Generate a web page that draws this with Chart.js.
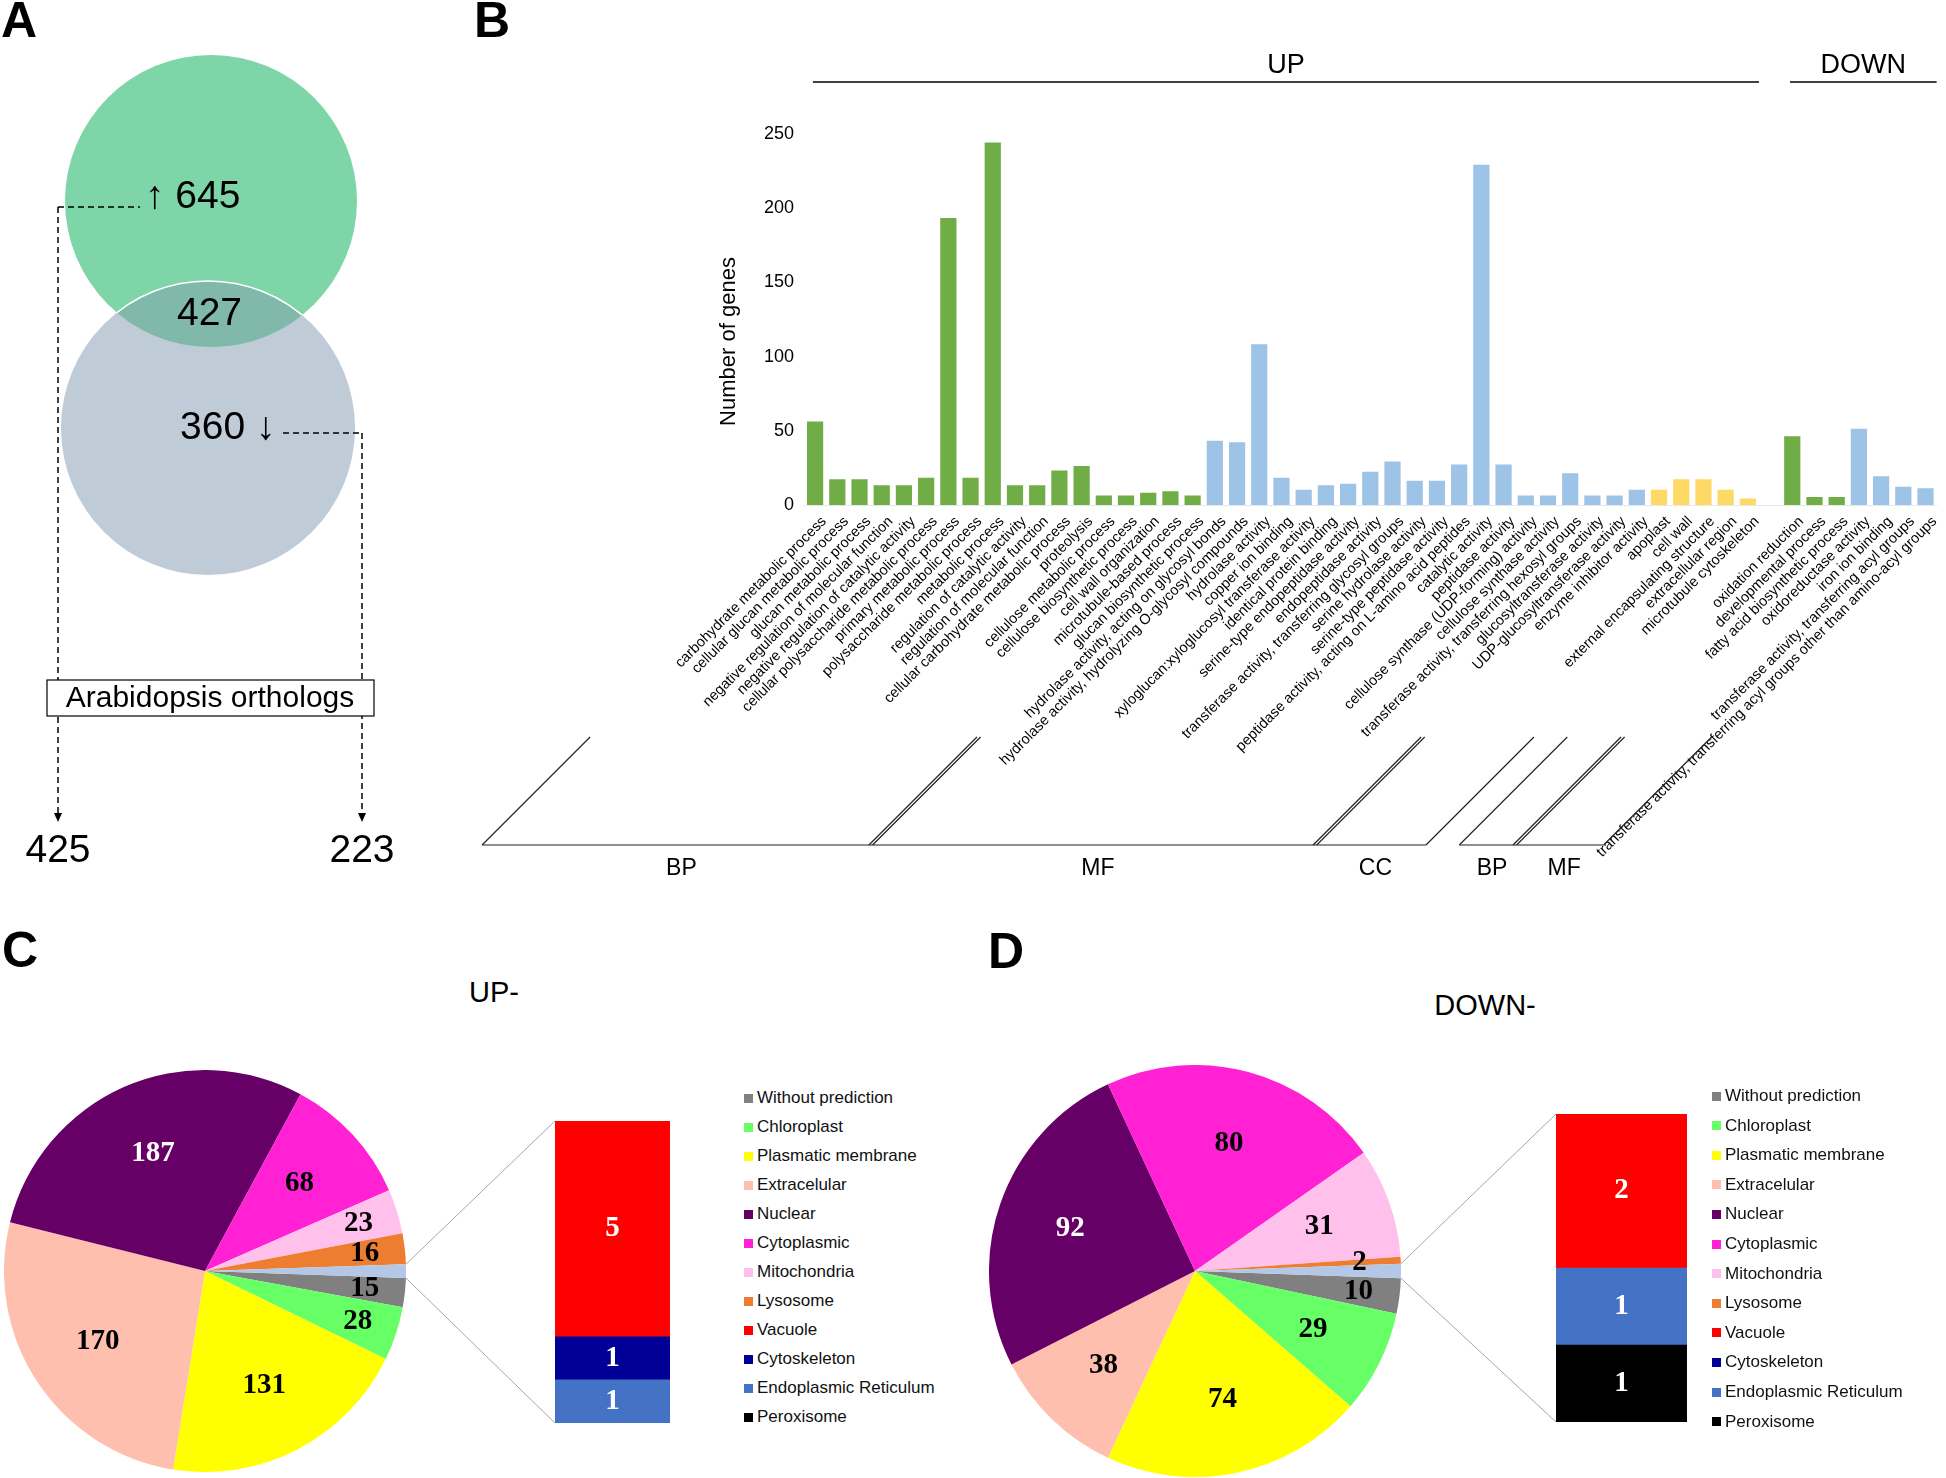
<!DOCTYPE html>
<html>
<head>
<meta charset="utf-8">
<script src="https://cdn.jsdelivr.net/npm/chart.js@4.4.1/dist/chart.umd.min.js"></script>
<style>
  body { margin: 0; background: #fff; }
  #page { position: relative; width: 1946px; height: 1478px; overflow: hidden; font-family: "Liberation Sans", Arial, sans-serif; color: #000; }
  canvas { position: absolute; }
  .txt { position: absolute; white-space: nowrap; line-height: 1; }
  .lg-row { position: absolute; font-size: 17px; line-height: 18px; height: 18px; padding-left: 13px; white-space: nowrap; color: #111; }
  .lg-row i { position: absolute; left: 0; top: 4.5px; width: 9px; height: 9px; }
</style>
</head>
<body>
<div id="page">
  <canvas id="vennChart"></canvas>
  <canvas id="goChart"></canvas>
  <canvas id="pieUp"></canvas>
  <canvas id="barUp"></canvas>
  <canvas id="pieDown"></canvas>
  <canvas id="barDown"></canvas>
  <div id="legendUp"></div>
  <div id="legendDown"></div>
</div>
<script>
// ---------- data ----------
const vennSets = ['UP', 'DOWN'];
const vennCounts = [645, 360];
const vennShared = 427;
const orthologCounts = [425, 223];

const upBPLabels = ['carbohydrate metabolic process', 'cellular glucan metabolic process', 'glucan metabolic process',
  'negative regulation of molecular function', 'negative regulation of catalytic activity',
  'cellular polysaccharide metabolic process', 'primary metabolic process', 'polysaccharide metabolic process',
  'metabolic process', 'regulation of catalytic activity', 'regulation of molecular function',
  'cellular carbohydrate metabolic process', 'proteolysis', 'cellulose metabolic process',
  'cellulose biosynthetic process', 'cell wall organization', 'microtubule-based process', 'glucan biosynthetic process'];
const upBPValues = [57, 18, 18, 14, 14, 19, 194, 19, 245, 14, 14, 24, 27, 7, 7, 9, 10, 7];

const upMFLabels = ['hydrolase activity, acting on glycosyl bonds', 'hydrolase activity, hydrolyzing O-glycosyl compounds',
  'hydrolase activity', 'copper ion binding', 'xyloglucan:xyloglucosyl transferase activity', 'identical protein binding',
  'serine-type endopeptidase activity', 'endopeptidase activity', 'transferase activity, transferring glycosyl groups',
  'serine hydrolase activity', 'serine-type peptidase activity', 'peptidase activity, acting on L-amino acid peptides',
  'catalytic activity', 'peptidase activity', 'cellulose synthase (UDP-forming) activity', 'cellulose synthase activity',
  'transferase activity, transferring hexosyl groups', 'glucosyltransferase activity', 'UDP-glucosyltransferase activity',
  'enzyme inhibitor activity'];
const upMFValues = [44, 43, 109, 19, 11, 14, 15, 23, 30, 17, 17, 28, 230, 28, 7, 7, 22, 7, 7, 11];

const upCCLabels = ['apoplast', 'cell wall', 'external encapsulating structure', 'extracellular region', 'microtubule cytoskeleton'];
const upCCValues = [11, 18, 18, 11, 5];

const downBPLabels = ['oxidation reduction', 'developmental process', 'fatty acid biosynthetic process'];
const downBPValues = [47, 6, 6];

const downMFLabels = ['oxidoreductase activity', 'iron ion binding', 'transferase activity, transferring acyl groups',
  'transferase activity, transferring acyl groups other than amino-acyl groups'];
const downMFValues = [52, 20, 13, 12];

const geneTicks = [0, 50, 100, 150, 200, 250];

const locLabels = ['Without prediction', 'Chloroplast', 'Plasmatic membrane', 'Extracelular', 'Nuclear', 'Cytoplasmic',
  'Mitochondria', 'Lysosome', 'Vacuole', 'Cytoskeleton', 'Endoplasmic Reticulum', 'Peroxisome'];
// first eight go in the pie, last four are grouped in the side bar
const upLocMain = [15, 28, 131, 170, 187, 68, 23, 16];
const upLocDetail = [5, 1, 1, 0];      // Vacuole, Cytoskeleton, ER, Peroxisome
const downLocMain = [10, 29, 74, 38, 92, 80, 31, 2];
const downLocDetail = [2, 0, 1, 1];

// ---------- styles ----------
const locColors = ['#808080', '#66FF66', '#FFFF00', '#FFBFAE', '#660066', '#FF21D3', '#FFC1EC', '#ED7D31',
  '#FF0000', '#000096', '#4472C4', '#000000'];
const otherColor = '#B4C7E7';
const green = '#70AD47', blue = '#9DC3E6', yellow = '#FFD966';

const boxes = {
  venn: { left: 0, top: 0, w: 440, h: 900 },
  go: { left: 440, top: 0, w: 1506, h: 900 },
  pieUp: { left: 4, top: 1070, w: 402, h: 402 },
  barUp: { left: 390, top: 1060, w: 340, h: 400, pad: { left: 165, right: 60, top: 61, bottom: 37 } },
  pieDown: { left: 989, top: 1065, w: 412, h: 412 },
  barDown: { left: 1380, top: 1060, w: 340, h: 400, pad: { left: 176, right: 33, top: 54, bottom: 38 } }
};

Chart.defaults.font.family = '"Liberation Sans", Arial, sans-serif';
Chart.defaults.color = '#000';
Chart.defaults.animation = false;

function place(id, box) {
  const c = document.getElementById(id);
  c.width = box.w; c.height = box.h;
  c.style.left = box.left + 'px'; c.style.top = box.top + 'px';
  return c;
}

function addText(text, x, baseline, size, opts) {
  opts = opts || {};
  const d = document.createElement('div');
  d.className = 'txt';
  d.textContent = text;
  d.style.fontSize = size + 'px';
  d.style.top = (baseline - 0.8465 * size) + 'px';
  d.style.left = x + 'px';
  if (opts.bold) d.style.fontWeight = 'bold';
  if (opts.center) d.style.transform = 'translateX(-50%)';
  document.getElementById('page').appendChild(d);
}

function line(ctx, x1, y1, x2, y2) {
  ctx.beginPath(); ctx.moveTo(x1, y1); ctx.lineTo(x2, y2); ctx.stroke();
}

// ---------- A: venn ----------
const vennDecor = {
  id: 'vennDecor',
  afterDatasetsDraw(chart) {
    const ctx = chart.ctx;
    const up = chart.getDatasetMeta(0).data[0];
    const dn = chart.getDatasetMeta(1).data[0];
    const rU = up.options.radius, rD = dn.options.radius;

    // overlap
    ctx.save();
    ctx.beginPath(); ctx.arc(up.x, up.y, rU, 0, Math.PI * 2); ctx.clip();
    ctx.beginPath(); ctx.arc(dn.x, dn.y, rD, 0, Math.PI * 2);
    ctx.fillStyle = '#80B9AA'; ctx.fill();
    ctx.strokeStyle = '#fff'; ctx.lineWidth = 1.5; ctx.stroke();
    ctx.restore();

    ctx.save();
    ctx.fillStyle = '#000'; ctx.strokeStyle = '#000';
    ctx.font = '39px "Liberation Sans"';
    ctx.textBaseline = 'middle';
    ctx.textAlign = 'left';
    ctx.fillText('\u2191 ' + vennCounts[0], up.x - 66, up.y - 4);
    ctx.fillText(vennCounts[1] + ' \u2193', dn.x - 28, dn.y);
    ctx.textAlign = 'center';
    ctx.fillText(String(vennShared), (up.x + dn.x) / 2, (up.y + rU + dn.y - rD) / 2);

    // dashed leaders
    const xl = up.x - rU - 7, xr = dn.x + rD + 7;
    const yl = up.y + 6, yr = dn.y + 5;
    const tip = dn.y + rD + 247;
    ctx.lineWidth = 1.5; ctx.setLineDash([6, 4]);
    line(ctx, xl, yl, up.x - 71, yl);
    line(ctx, xl, yl, xl, tip - 8);
    line(ctx, dn.x + 75, yr, xr, yr);
    line(ctx, xr, yr, xr, tip - 8);
    ctx.setLineDash([]);
    [xl, xr].forEach(x => {
      ctx.beginPath(); ctx.moveTo(x - 4, tip - 9); ctx.lineTo(x + 4, tip - 9); ctx.lineTo(x, tip); ctx.closePath(); ctx.fill();
    });

    // orthologs box
    const by = dn.y + rD + 105;
    ctx.fillStyle = '#fff';
    ctx.fillRect(xl - 11, by, xr - xl + 23, 36);
    ctx.lineWidth = 1.2;
    ctx.strokeRect(xl - 11, by, xr - xl + 23, 36);
    ctx.fillStyle = '#000';
    ctx.font = '30px "Liberation Sans"';
    ctx.fillText('Arabidopsis orthologs', (xl + xr) / 2, by + 19);

    ctx.font = '39px "Liberation Sans"';
    ctx.fillText(String(orthologCounts[0]), xl, tip + 29);
    ctx.fillText(String(orthologCounts[1]), xr, tip + 29);
    ctx.restore();
  }
};

new Chart(place('vennChart', boxes.venn), {
  type: 'bubble',
  data: {
    datasets: [
      { label: vennSets[0], data: [{ x: 211, y: 201, r: 146 }], backgroundColor: '#7ED6A8', borderWidth: 0 },
      { label: vennSets[1], data: [{ x: 208, y: 428, r: 147 }], backgroundColor: '#C0CBD8', borderWidth: 0 }
    ]
  },
  options: {
    responsive: false,
    layout: { padding: 0, autoPadding: false },
    plugins: { legend: { display: false }, tooltip: { enabled: false } },
    scales: {
      x: { display: false, min: 0, max: 440 },
      y: { display: false, min: 0, max: 900, reverse: true }
    }
  },
  plugins: [vennDecor]
});

// ---------- B: GO bar chart ----------
const goGroups = [
  { set: 'UP', name: 'BP', labels: upBPLabels, values: upBPValues, color: green },
  { set: 'UP', name: 'MF', labels: upMFLabels, values: upMFValues, color: blue },
  { set: 'UP', name: 'CC', labels: upCCLabels, values: upCCValues, color: yellow },
  { set: 'DOWN', name: 'BP', labels: downBPLabels, values: downBPValues, color: green },
  { set: 'DOWN', name: 'MF', labels: downMFLabels, values: downMFValues, color: blue }
];
const goLabels = [], goValues = [], goColors = [];
goGroups.forEach((g, i) => {
  if (i > 0 && g.set !== goGroups[i - 1].set) { goLabels.push(''); goValues.push(null); goColors.push('#fff'); }
  g.start = goLabels.length;
  g.labels.forEach((l, j) => { goLabels.push(l); goValues.push(g.values[j]); goColors.push(g.color); });
  g.end = goLabels.length - 1;
});
const goSets = vennSets.map(name => goGroups.filter(g => g.set === name));

const goDecor = {
  id: 'goDecor',
  afterDraw(chart) {
    const { ctx, chartArea: ca, scales: { x } } = chart;
    const px = v => x.getPixelForValue(v);
    const slot = px(1) - px(0);
    ctx.save();
    ctx.fillStyle = '#000'; ctx.strokeStyle = '#000';

    // y title
    ctx.save();
    ctx.translate(ca.left - 75, (ca.top + ca.bottom) / 2 + 22);
    ctx.rotate(-Math.PI / 2);
    ctx.font = '22px "Liberation Sans"';
    ctx.textAlign = 'center'; ctx.textBaseline = 'middle';
    ctx.fillText('Number of genes', 0, 0);
    ctx.restore();

    // UP / DOWN headers
    ctx.font = '27px "Liberation Sans"';
    ctx.textAlign = 'center'; ctx.textBaseline = 'alphabetic';
    ctx.lineWidth = 1.6;
    goSets.forEach((grp, i) => {
      const x1 = px(grp[0].start) - 0.1 * slot, x2 = px(grp[grp.length - 1].end) + 0.5 * slot;
      const yl = ca.top - 52;
      line(ctx, x1, yl, x2, yl);
      ctx.fillText(vennSets[i], (x1 + x2) / 2, yl - 9);
    });

    // brackets under the labels, 45 degree separators
    const y0 = ca.bottom + 7, yT = ca.bottom + 232, yB = ca.bottom + 340;
    const sx = (b, y) => px(b) - (y - y0);
    ctx.lineWidth = 1.2;
    ctx.strokeStyle = '#222';
    ctx.font = '23px "Liberation Sans"';
    ctx.textBaseline = 'middle';
    goSets.forEach(grp => {
      const bounds = [grp[0].start];
      for (let k = 0; k < grp.length - 1; k++) bounds.push((grp[k].end + grp[k + 1].start) / 2);
      bounds.push(grp[grp.length - 1].end + 0.5);
      line(ctx, sx(bounds[0], yB), yB, sx(bounds[bounds.length - 1], yB), yB);
      bounds.forEach((b, k) => {
        const inner = k > 0 && k < bounds.length - 1;
        const offs = inner ? [-1.8, 1.8] : [0];
        offs.forEach(o => line(ctx, sx(b, yT) + o, yT, sx(b, yB) + o, yB));
      });
      grp.forEach((g, k) => {
        ctx.fillText(g.name, (sx(bounds[k], yB) + sx(bounds[k + 1], yB)) / 2 + 5, yB + 24);
      });
    });
    ctx.restore();
  }
};

new Chart(place('goChart', boxes.go), {
  type: 'bar',
  data: {
    labels: goLabels,
    datasets: [{
      data: goValues,
      backgroundColor: goColors,
      borderColor: 'rgba(255,255,255,0.55)',
      borderWidth: 1,
      barPercentage: 0.82,
      categoryPercentage: 1
    }]
  },
  options: {
    responsive: false,
    layout: { padding: { left: 272, right: 9, top: 134, bottom: 0 } },
    plugins: { legend: { display: false }, tooltip: { enabled: false } },
    scales: {
      x: {
        grid: { display: false, drawTicks: false },
        border: { display: true, color: '#e8e8e8' },
        ticks: { autoSkip: false, minRotation: 45, maxRotation: 45, padding: 8, labelOffset: 9, font: { size: 14.6 }, color: '#000' },
        afterFit: s => { s.height = 395; }
      },
      y: {
        min: 0, max: 250,
        grid: { display: false, drawTicks: false },
        border: { display: false },
        ticks: { padding: 10, font: { size: 18 }, color: '#000' },
        afterBuildTicks: s => { s.ticks = geneTicks.map(v => ({ value: v })); },
        afterFit: s => { s.width = 92; }
      }
    }
  },
  plugins: [goDecor]
});

// ---------- C / D: localisation pies ----------
const pieLabels = {
  id: 'pieLabels',
  afterDatasetsDraw(chart) {
    const ctx = chart.ctx;
    const ds = chart.data.datasets[0];
    const total = ds.data.reduce((a, b) => a + b, 0);
    ctx.save();
    ctx.font = 'bold 29px "Liberation Serif"';
    ctx.textAlign = 'center'; ctx.textBaseline = 'middle';
    chart.getDatasetMeta(0).data.forEach((arc, i) => {
      if (i >= locLabels.length - 4) return;   // grouped slice carries no label
      const v = ds.data[i];
      const mid = (arc.startAngle + arc.endAngle) / 2;
      const f = v / total < 0.05 ? 0.8 : 0.64;
      ctx.fillStyle = locLabels[i] === 'Nuclear' ? '#fff' : '#000';
      ctx.fillText(String(v), arc.x + Math.cos(mid) * arc.outerRadius * f, arc.y + Math.sin(mid) * arc.outerRadius * f);
    });
    ctx.restore();
  }
};

function makePie(id, box, main, detail) {
  const grouped = detail.reduce((a, b) => a + b, 0);
  return new Chart(place(id, box), {
    type: 'pie',
    data: {
      labels: locLabels.slice(0, main.length).concat(['Other']),
      datasets: [{
        data: main.concat([grouped]),
        backgroundColor: locColors.slice(0, main.length).concat([otherColor]),
        borderWidth: 0
      }]
    },
    options: {
      responsive: false,
      rotation: 92,
      layout: { padding: 0, autoPadding: false },
      plugins: { legend: { display: false }, tooltip: { enabled: false } }
    },
    plugins: [pieLabels]
  });
}

function makeDetailBar(id, box, detail, pie, pieBox) {
  // bottom to top: Peroxisome, ER, Cytoskeleton, Vacuole
  const order = [3, 2, 1, 0];
  const first = locLabels.length - 4;
  const datasets = order.filter(k => detail[k] > 0).map(k => ({
    label: locLabels[first + k],
    data: [detail[k]],
    backgroundColor: locColors[first + k],
    borderWidth: 0,
    barPercentage: 1,
    categoryPercentage: 1
  }));
  const total = detail.reduce((a, b) => a + b, 0);

  const detailDecor = {
    id: 'detailDecor',
    beforeDatasetsDraw(chart) {
      const { ctx, chartArea: ca } = chart;
      const arc = pie.getDatasetMeta(0).data[pie.data.datasets[0].data.length - 1];
      const dx = pieBox.left - box.left, dy = pieBox.top - box.top;
      const p = a => [arc.x + Math.cos(a) * arc.outerRadius + dx, arc.y + Math.sin(a) * arc.outerRadius + dy];
      const a1 = p(arc.startAngle), a2 = p(arc.endAngle);
      ctx.save();
      ctx.strokeStyle = '#A6A6A6'; ctx.lineWidth = 1;
      line(ctx, a1[0], a1[1], ca.left, ca.top);
      line(ctx, a2[0], a2[1], ca.left, ca.bottom);
      ctx.restore();
    },
    afterDatasetsDraw(chart) {
      const ctx = chart.ctx;
      ctx.save();
      ctx.font = 'bold 29px "Liberation Serif"';
      ctx.fillStyle = '#fff';
      ctx.textAlign = 'center'; ctx.textBaseline = 'middle';
      chart.data.datasets.forEach((ds, i) => {
        const el = chart.getDatasetMeta(i).data[0];
        ctx.fillText(String(ds.data[0]), el.x, (el.y + el.base) / 2);
      });
      ctx.restore();
    }
  };

  return new Chart(place(id, box), {
    type: 'bar',
    data: { labels: ['grouped'], datasets },
    options: {
      responsive: false,
      layout: { padding: box.pad, autoPadding: false },
      plugins: { legend: { display: false }, tooltip: { enabled: false } },
      scales: {
        x: { display: false, stacked: true },
        y: { display: false, stacked: true, min: 0, max: total }
      }
    },
    plugins: [detailDecor]
  });
}

function buildLegend(id, left, firstY, step) {
  const host = document.getElementById(id);
  locLabels.forEach((name, i) => {
    const row = document.createElement('div');
    row.className = 'lg-row';
    row.style.left = left + 'px';
    row.style.top = (firstY + i * step - 9) + 'px';
    const sw = document.createElement('i');
    sw.style.background = locColors[i];
    row.appendChild(sw);
    row.appendChild(document.createTextNode(name));
    host.appendChild(row);
  });
}

const pieUp = makePie('pieUp', boxes.pieUp, upLocMain, upLocDetail);
makeDetailBar('barUp', boxes.barUp, upLocDetail, pieUp, boxes.pieUp);
const pieDown = makePie('pieDown', boxes.pieDown, downLocMain, downLocDetail);
makeDetailBar('barDown', boxes.barDown, downLocDetail, pieDown, boxes.pieDown);

buildLegend('legendUp', 744, 1098, 29);
buildLegend('legendDown', 1712, 1096, 29.6);

// panel letters and titles
addText('A', 1, 37, 50, { bold: true });
addText('B', 474, 37, 50, { bold: true });
addText('C', 2, 967, 50, { bold: true });
addText('D', 988, 968, 50, { bold: true });
addText('UP-', 494, 1003, 29, { center: true });
addText('DOWN-', 1485, 1016, 29, { center: true });
</script>
</body>
</html>
